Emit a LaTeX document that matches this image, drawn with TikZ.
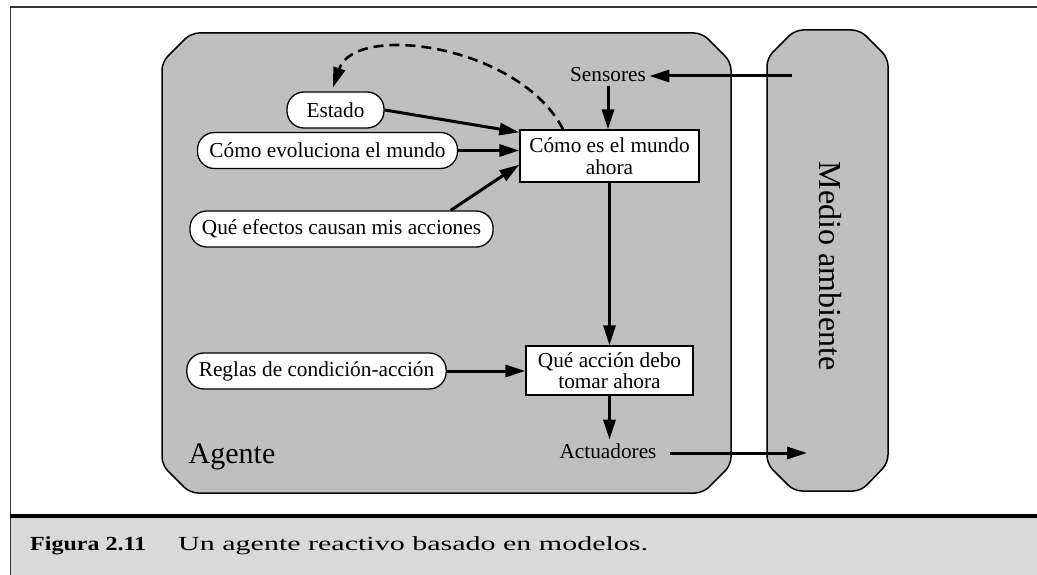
\documentclass[tikz,border=0pt]{standalone}
\usepackage{fontspec}
\usepackage{graphicx}
\setmainfont{Liberation Serif}
\usetikzlibrary{arrows.meta,calc}
\definecolor{agentgray}{HTML}{BFBFBF}
\definecolor{capgray}{HTML}{D9D9D9}
\begin{document}
\begin{tikzpicture}[x=1pt,y=-1pt,
  txt/.style={font=\fontsize{21.3}{21.5}\selectfont},
  pill/.style={txt, draw=black, line width=1.3pt, fill=white, rounded corners=17pt,
    minimum height=36pt, inner xsep=12pt, inner ysep=0pt},
  box/.style={txt, draw=black, line width=1.3pt, fill=white, align=center, inner sep=0pt},
  arr/.style={line width=3pt, -{Triangle[length=20pt,width=12pt]}},
  dasharr/.style={line width=2.6pt, dash pattern=on 10pt off 6pt, -{Triangle[length=20pt,width=12pt]}},
  panel/.style={draw=black, line width=1.5pt, fill=agentgray, rounded corners=8pt},
  frame/.style={draw=black!80, line width=1.5pt},
  captxt/.style={anchor=base west, inner sep=0pt, font=\fontsize{20}{20}\selectfont}
]
\useasboundingbox (0,0) rectangle (1037,575);
% frame and caption area
\fill[capgray] (10,517) rectangle (1037,575);
\draw[frame] (1037,7) -- (10.5,7) -- (10.5,575);
\draw[line width=3.5pt] (10,516) -- (1037,516);
% agent panel
\draw[panel] (162,250) -- (162,62) -- (191,33) -- (702,33) -- (731,62) -- (731,465)
  -- (703,493) -- (190,493) -- (162,465) -- cycle;
% environment panel
\draw[panel] (767,250) -- (767,58) -- (795,30) -- (860,30) -- (888,58) -- (888,463)
  -- (861,491) -- (794,491) -- (767,464) -- cycle;
\node[font=\fontsize{32}{32}\selectfont, rotate=-90] (medio) at (830,266) {Medio ambiente};
\coordinate (envin) at (792,76);
\coordinate (envout) at (807,453);
% text labels
\node[txt, anchor=base] (sens) at (608,82) {Sensores};
\node[txt, anchor=base] (act) at (608,458) {Actuadores};
\node[font=\fontsize{30}{30}\selectfont, anchor=base] (agente) at (232,463) {Agente};
% boxes
\node[box, minimum width=179pt, minimum height=52pt] (como) at (609.5,156) {Cómo es el mundo\\ahora};
\node[box, minimum width=167pt, minimum height=49pt] (accion) at (609.5,370.5) {Qué acción debo\\tomar ahora};
% pills
\node[pill, minimum width=97pt] (estado) at (335.5,110) {Estado};
\node[pill] (evol) at (327.5,150.5) {Cómo evoluciona el mundo};
\node[pill] (efectos) at (341.5,229) {Qué efectos causan mis acciones};
\node[pill] (reglas) at (316.5,371) {Reglas de condición-acción};
% connectors
\draw[arr] (envin) -- (sens.east |- envin);
\draw[arr] (sens.south) -- (sens.south |- como.north);
\draw[arr] (estado.east) -- ([yshift=-3pt]como.north west);
\draw[arr] (evol.east) -- (como.west |- evol.east);
\draw[arr] ($(efectos.north east)+(-43,0)$) -- ([yshift=18pt]como.south west);
\draw[arr] (como.south) -- (accion.north);
\draw[arr] (reglas.east) -- (accion.west |- reglas.east);
\draw[arr] (accion.south) -- (accion.south |- act.north);
\draw[arr] ([xshift=10pt]act.east |- envout) -- (envout);
\draw[dasharr] ($(como.north)+(-46.5,0)$) .. controls (520,45) and (355,22) .. ($(estado.north)+(-2.5,-4)$);
% caption
\node[captxt, font=\bfseries\fontsize{20}{20}\selectfont] (fig) at (30,550) {\scalebox{1.2}[1]{Figura 2.11}};
\node[captxt] (capt) at (178,550) {\scalebox{1.5}[1]{Un agente reactivo basado en modelos.}};
\end{tikzpicture}
\end{document}
